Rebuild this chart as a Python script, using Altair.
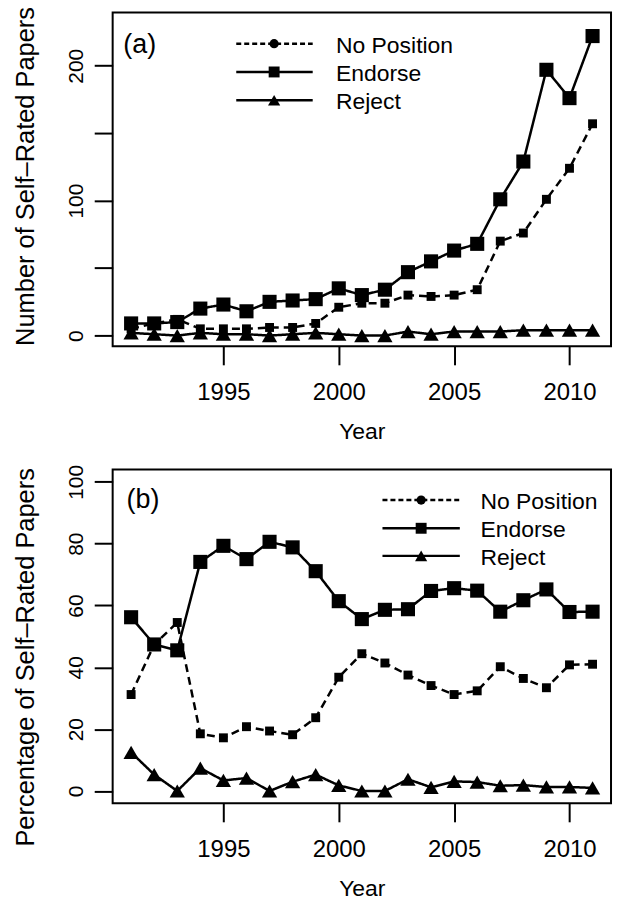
import altair as alt
import pandas as pd

years = list(range(1991, 2012))
no_position_n = [5, 9, 12, 5, 5, 5, 6, 6, 9, 21, 24, 24, 30, 29, 30, 34, 70, 76, 101, 124, 157]
endorse_n = [9, 9, 10, 20, 23, 18, 25, 26, 27, 35, 30, 34, 47, 55, 63, 68, 101, 129, 197, 176, 222]
reject_n = [2, 1, 0, 2, 1, 1, 0, 1, 2, 1, 0, 0, 3, 1, 3, 3, 3, 4, 4, 4, 4]

no_position_pct = [31.2, 47.4, 54.5, 18.5, 17.2, 20.8, 19.4, 18.2, 23.7, 36.8, 44.4,
                   41.4, 37.5, 34.1, 31.2, 32.4, 40.2, 36.4, 33.4, 40.8, 41.0]
endorse_pct = [56.2, 47.4, 45.5, 74.1, 79.3, 75.0, 80.6, 78.8, 71.1, 61.4, 55.6,
               58.6, 58.8, 64.7, 65.6, 64.8, 58.0, 61.7, 65.2, 57.9, 58.0]
reject_pct = [12.5, 5.3, 0.0, 7.4, 3.4, 4.2, 0.0, 3.0, 5.3, 1.8, 0.0,
              0.0, 3.8, 1.2, 3.1, 2.9, 1.7, 1.9, 1.3, 1.3, 1.0]

series_names = ["No Position", "Endorse", "Reject"]
x_tick_values = [1995, 2000, 2005, 2010]

FONT = "Liberation Sans"
W, H = 500, 335

frames = []
for name, n, p in [("No Position", no_position_n, no_position_pct),
                   ("Endorse", endorse_n, endorse_pct),
                   ("Reject", reject_n, reject_pct)]:
    frames.append(pd.DataFrame({"year": years, "series": name, "count": n, "pct": p}))
df = pd.concat(frames, ignore_index=True)

styles = {
    "No Position": dict(dash=[8, 5], shape="square", size=80, lshape="circle", lsize=85, ldash=[5, 3]),
    "Endorse": dict(dash=[1, 0], shape="square", size=200, lshape="square", lsize=120, ldash=[1, 0]),
    "Reject": dict(dash=[1, 0], shape="triangle-up", size=235, lshape="triangle-up", lsize=150, ldash=[1, 0]),
}


def panel(ycol, ydomain, yticks, label_expr, ytitle, title_y, leg, tag):
    xenc = alt.X("year:Q",
                 scale=alt.Scale(domain=[1990.2, 2011.8], nice=False, zero=False),
                 axis=alt.Axis(values=x_tick_values, format="d", title="Year",
                               labelBaseline="alphabetic", labelPadding=35,
                               titleY=92.5, titleBaseline="alphabetic"))
    yenc = alt.Y(f"{ycol}:Q",
                 scale=alt.Scale(domain=ydomain, nice=False, zero=False),
                 axis=alt.Axis(values=yticks, labelExpr=label_expr, title=ytitle,
                               labelAngle=270, labelAlign="center",
                               labelBaseline="alphabetic", labelPadding=11.5,
                               labelFontSize=21,
                               titleAngle=270, titleX=-79, titleY=title_y,
                               titleAlign="center", titleBaseline="alphabetic",
                               titleFontSize=25.5))
    layers = []
    for name in series_names:
        st = styles[name]
        base = alt.Chart(df).transform_filter(alt.datum.series == name)
        layers.append(base.mark_line(color="black", strokeWidth=2.5, strokeDash=st["dash"])
                      .encode(x=xenc, y=yenc))
        layers.append(base.mark_point(shape=st["shape"], filled=True, color="black",
                                      size=st["size"], opacity=1)
                      .encode(x="year:Q", y=f"{ycol}:Q"))
    one = alt.Data(values=[{"k": 1}])
    lx0, lx1, lsym, ltxt, lys = leg
    for name, ly in zip(series_names, lys):
        st = styles[name]
        layers.append(alt.Chart(one).mark_rule(color="black", strokeWidth=2.5,
                                               strokeDash=st["ldash"])
                      .encode(x=alt.value(lx0), x2=alt.value(lx1), y=alt.value(ly)))
        layers.append(alt.Chart(one).mark_point(shape=st["lshape"], filled=True,
                                                color="black", size=st["lsize"], opacity=1)
                      .encode(x=alt.value(lsym), y=alt.value(ly)))
        layers.append(alt.Chart(one).mark_text(text=name, align="left", baseline="middle",
                                               font=FONT, fontSize=23, color="black")
                      .encode(x=alt.value(ltxt), y=alt.value(ly + 2)))
    layers.append(alt.Chart(one).mark_text(text=tag[0], align="left", baseline="middle",
                                           font=FONT, fontSize=27, color="black")
                  .encode(x=alt.value(tag[1]), y=alt.value(tag[2])))
    return alt.layer(*layers).properties(width=W, height=H)


top = panel("count", [-8, 239.5], [0, 50, 100, 150, 200],
            "datum.value % 100 == 0 ? datum.label : ''",
            "Number of Self–Rated Papers", 164,
            (124, 200.7, 162, 224, [31.3, 59.7, 88]), ("(a)", 10.7, 33))
bottom = panel("pct", [-4, 104], [0, 20, 40, 60, 80, 100],
               "datum.label",
               "Percentage of Self–Rated Papers", 188,
               (270.7, 348.3, 309.5, 369, [30.7, 59, 86.7]), ("(b)", 14, 31))

chart = alt.vconcat(top, bottom, spacing=123.5, bounds="flush").properties(
    padding={"left": 4, "top": -5, "right": 5, "bottom": 5}
).configure_view(stroke="black", strokeWidth=2).configure_axis(
    domain=False, grid=False, ticks=True, tickColor="black", tickWidth=2, tickSize=18.5,
    labelFont=FONT, labelFontSize=24, labelColor="black",
    titleFont=FONT, titleFontSize=23, titleColor="black", titleFontWeight="normal",
    labelOverlap=False, labelFlush=False
)

chart.save("out.html", embed_options={"renderer": "svg", "actions": False})
